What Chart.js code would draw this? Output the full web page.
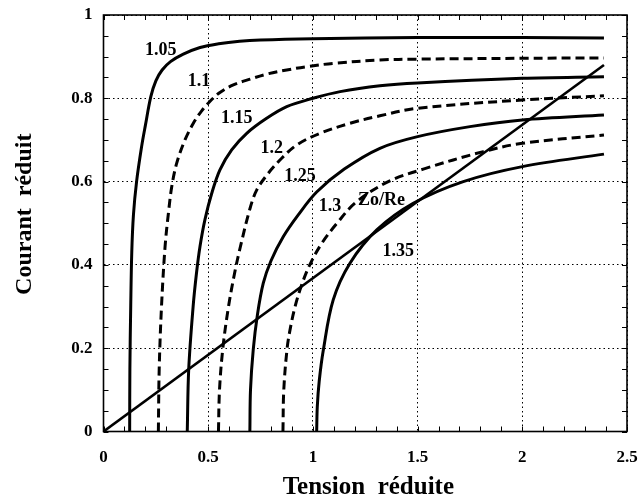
<!DOCTYPE html>
<html><head><meta charset="utf-8">
<script src="https://cdn.jsdelivr.net/npm/chart.js@4"></script>
<style>html,body{margin:0;padding:0;background:#fff}</style>
</head><body>
<canvas id="c" width="639" height="504"></canvas>
<script>
// ---- data ----
const xTickLabels = ['0', '0.5', '1', '1.5', '2', '2.5'];
const yTickLabels = ['0', '0.2', '0.4', '0.6', '0.8', '1'];
const seriesNames = ['1.05', '1.1', '1.15', '1.2', '1.25', '1.3', '1.35', 'Zo/Re'];

const x105 = [0.125, 0.126, 0.130, 0.135, 0.143, 0.158, 0.182, 0.200, 0.226, 0.250, 0.280, 0.320, 0.381, 0.461, 0.550, 0.650, 0.750, 1.0, 1.5, 2.0, 2.39];
const y105 = [0, 0.15, 0.30, 0.43, 0.52, 0.60, 0.684, 0.735, 0.804, 0.842, 0.868, 0.888, 0.906, 0.922, 0.931, 0.937, 0.940, 0.943, 0.946, 0.946, 0.945];

const x110 = [0.262, 0.266, 0.277, 0.294, 0.310, 0.326, 0.350, 0.389, 0.429, 0.469, 0.509, 0.556, 0.620, 0.700, 0.779, 0.875, 0.970, 1.10, 1.32, 1.5, 2.0, 2.39];
const y110 = [0, 0.15, 0.30, 0.444, 0.524, 0.588, 0.645, 0.700, 0.740, 0.770, 0.793, 0.814, 0.832, 0.846, 0.858, 0.868, 0.876, 0.884, 0.892, 0.894, 0.896, 0.897];

const x115 = [0.400, 0.407, 0.428, 0.444, 0.461, 0.485, 0.517, 0.556, 0.612, 0.684, 0.779, 0.875, 1.0, 1.13, 1.32, 1.5, 2.0, 2.39];
const y115 = [0, 0.15, 0.30, 0.38, 0.445, 0.510, 0.572, 0.628, 0.676, 0.716, 0.752, 0.780, 0.800, 0.816, 0.830, 0.837, 0.848, 0.852];

const x120 = [0.549, 0.554, 0.570, 0.597, 0.626, 0.652, 0.700, 0.732, 0.787, 0.851, 0.923, 1.034, 1.177, 1.32, 1.5, 2.0, 2.39];
const y120 = [0, 0.10, 0.20, 0.30, 0.38, 0.44, 0.536, 0.580, 0.620, 0.656, 0.688, 0.716, 0.740, 0.758, 0.776, 0.796, 0.806];

const x125 = [0.699, 0.702, 0.715, 0.735, 0.763, 0.800, 0.859, 0.930, 1.018, 1.15, 1.32, 1.5, 1.75, 2.0, 2.39];
const y125 = [0, 0.10, 0.196, 0.280, 0.356, 0.410, 0.468, 0.520, 0.575, 0.630, 0.680, 0.708, 0.732, 0.748, 0.760];

const x130 = [0.857, 0.861, 0.877, 0.893, 0.915, 0.945, 0.985, 1.040, 1.115, 1.205, 1.360, 1.527, 1.814, 2.0, 2.39];
const y130 = [0, 0.10, 0.20, 0.25, 0.30, 0.35, 0.40, 0.45, 0.50, 0.55, 0.60, 0.630, 0.672, 0.692, 0.712];

const x135 = [1.018, 1.021, 1.030, 1.050, 1.097, 1.177, 1.305, 1.479, 1.718, 2.0, 2.39];
const y135 = [0, 0.06, 0.12, 0.196, 0.316, 0.404, 0.484, 0.548, 0.600, 0.636, 0.666];

const xZo = [0, 2.39];
const yZo = [0, 0.88];

// curve label anchor points (data coordinates), in the order of seriesNames
const labelX = [0.273, 0.456, 0.636, 0.803, 0.938, 1.082, 1.408, 1.328];
const labelY = [0.916, 0.840, 0.752, 0.680, 0.612, 0.540, 0.432, 0.556];

const seriesX = [x105, x110, x115, x120, x125, x130, x135, xZo];
const seriesY = [y105, y110, y115, y120, y125, y130, y135, yZo];
const dashed = [false, true, false, true, false, true, false, false];

const FONT = '"Liberation Serif", "Times New Roman", serif';

function pts(xs, ys) { return xs.map((v, i) => ({x: v, y: ys[i]})); }
function labelFor(list, v) {
  const i = list.findIndex(s => Math.abs(parseFloat(s) - v) < 1e-6);
  return i >= 0 ? list[i] : '';
}
function isMajor(list, v) { return labelFor(list, v) !== ''; }

const datasets = seriesX.map((xs, i) => ({
  label: seriesNames[i],
  data: pts(xs, seriesY[i]),
  showLine: true,
  borderColor: '#000',
  backgroundColor: '#000',
  borderWidth: i === 7 ? 2.6 : 3,
  borderDash: dashed[i] ? [9, 5] : [],
  pointRadius: 0,
  tension: i === 7 ? 0 : 0.35,
  fill: false
}));

const decor = {
  id: 'decor',
  afterDatasetsDraw(chart) {
    const {ctx, chartArea: a, scales: {x, y}} = chart;
    ctx.save();
    ctx.strokeStyle = '#000';
    ctx.lineWidth = 1;
    ctx.beginPath();
    x.ticks.forEach(t => {
      const p = Math.round(x.getPixelForValue(t.value)) + 0.5;
      ctx.moveTo(p, a.bottom); ctx.lineTo(p, a.bottom - 5);
      ctx.moveTo(p, a.top); ctx.lineTo(p, a.top + 5);
    });
    y.ticks.forEach(t => {
      const p = Math.round(y.getPixelForValue(t.value)) + 0.5;
      ctx.moveTo(a.left, p); ctx.lineTo(a.left + 5, p);
      ctx.moveTo(a.right, p); ctx.lineTo(a.right - 5, p);
    });
    ctx.stroke();
    ctx.lineWidth = 1.6;
    ctx.strokeRect(a.left, a.top, a.right - a.left, a.bottom - a.top);
    ctx.font = 'bold 18px ' + FONT;
    ctx.textAlign = 'center';
    ctx.textBaseline = 'middle';
    ctx.fillStyle = '#000';
    seriesNames.forEach((s, i) => {
      ctx.fillText(s, x.getPixelForValue(labelX[i]), y.getPixelForValue(labelY[i]));
    });
    ctx.restore();
  }
};

new Chart(document.getElementById('c'), {
  type: 'scatter',
  data: {datasets},
  options: {
    responsive: false,
    animation: false,
    devicePixelRatio: 1,
    layout: {padding: {top: 15, right: 12, bottom: 0, left: 0}},
    plugins: {legend: {display: false}, tooltip: {enabled: false}},
    scales: {
      x: {
        type: 'linear', min: 0, max: 2.5,
        afterFit(s) { s.height = 72.5; },
        ticks: {
          stepSize: 0.1, maxTicksLimit: 100, autoSkip: false, maxRotation: 0,
          padding: 0, color: '#000',
          font: {family: FONT, size: 17, weight: 'bold'},
          callback: v => labelFor(xTickLabels, v)
        },
        grid: {
          drawTicks: true, tickLength: 16, tickColor: 'rgba(0,0,0,0)', lineWidth: 1,
          color: c => isMajor(xTickLabels, c.tick.value) ? '#000' : 'rgba(0,0,0,0)'
        },
        border: {display: false, dash: [1.5, 3]},
        title: {
          display: true, text: ' Tension  réduite', color: '#000',
          font: {family: FONT, size: 25, weight: 'bold', lineHeight: 1},
          padding: {top: 0, bottom: 4}
        }
      },
      y: {
        type: 'linear', min: 0, max: 1,
        afterFit(s) { s.width = 103.5; },
        ticks: {
          stepSize: 0.05, maxTicksLimit: 100, autoSkip: false,
          padding: 0, color: '#000',
          font: {family: FONT, size: 17, weight: 'bold'},
          callback: v => labelFor(yTickLabels, v)
        },
        grid: {
          drawTicks: true, tickLength: 11, tickColor: 'rgba(0,0,0,0)', lineWidth: 1,
          color: c => isMajor(yTickLabels, c.tick.value) ? '#000' : 'rgba(0,0,0,0)'
        },
        border: {display: false, dash: [1.5, 3]},
        title: {
          display: true, text: '   Courant  réduit', color: '#000',
          font: {family: FONT, size: 24, weight: 'bold', lineHeight: 1},
          padding: {top: 13, bottom: 0}
        }
      }
    }
  },
  plugins: [decor]
});
</script>
</body></html>
